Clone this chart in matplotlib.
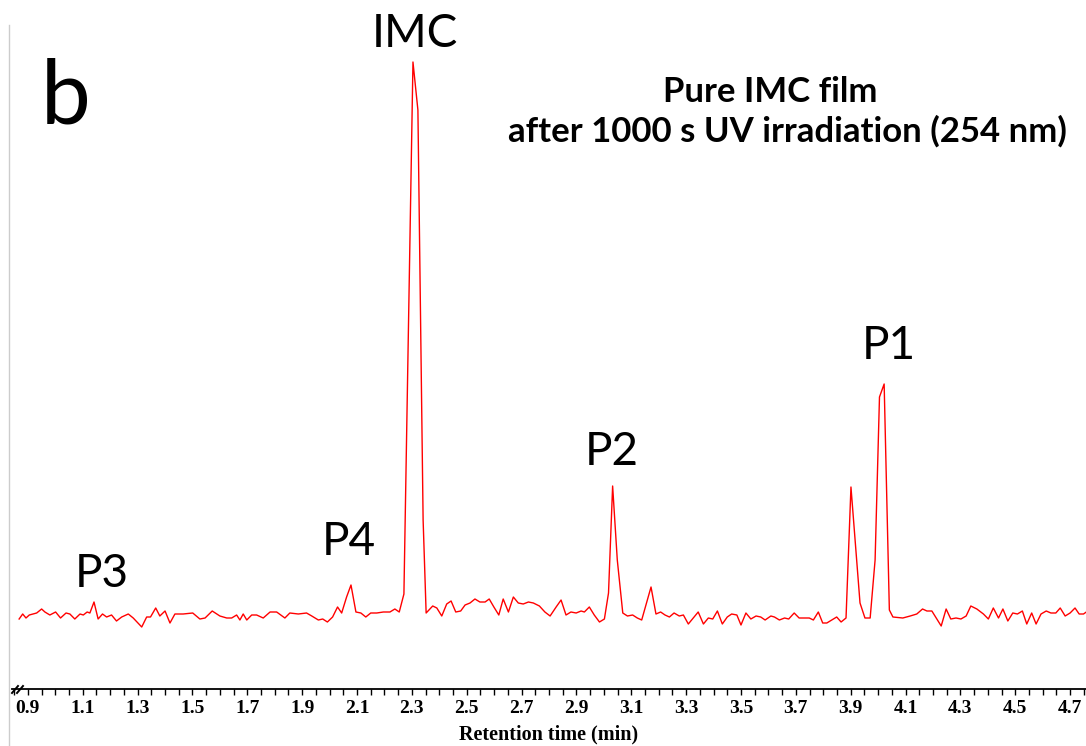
import numpy as np
import matplotlib
matplotlib.use("Agg")
from matplotlib import pyplot as plt
from matplotlib.lines import Line2D
from matplotlib.ticker import MultipleLocator, FixedLocator

# chromatogram: retention time (min) and detector signal (a.u.)
time_min = [0.868, 0.881, 0.893, 0.905, 0.919, 0.932, 0.950, 0.962, 0.980, 1.001,
            1.019, 1.039, 1.053, 1.071, 1.090, 1.102, 1.116, 1.126, 1.141, 1.156,
            1.172, 1.187, 1.205, 1.223, 1.242, 1.266, 1.284, 1.315, 1.333, 1.347,
            1.366, 1.381, 1.400, 1.418, 1.436, 1.466, 1.501, 1.527, 1.546, 1.572,
            1.600, 1.625, 1.643, 1.661, 1.673, 1.685, 1.698, 1.716, 1.734, 1.758,
            1.783, 1.807, 1.837, 1.855, 1.886, 1.916, 1.935, 1.959, 1.975, 1.992,
            2.011, 2.029, 2.044, 2.062, 2.078, 2.096, 2.114, 2.132, 2.150, 2.172,
            2.196, 2.220, 2.238, 2.254, 2.271, 2.304, 2.322, 2.341, 2.352, 2.376,
            2.391, 2.409, 2.427, 2.443, 2.460, 2.478, 2.494, 2.512, 2.530, 2.548,
            2.567, 2.582, 2.599, 2.617, 2.633, 2.652, 2.670, 2.688, 2.706, 2.725,
            2.743, 2.765, 2.785, 2.804, 2.826, 2.844, 2.862, 2.880, 2.899, 2.917,
            2.929, 2.947, 2.965, 2.984, 3.002, 3.017, 3.032, 3.049, 3.069, 3.086,
            3.105, 3.122, 3.138, 3.172, 3.190, 3.207, 3.223, 3.239, 3.256, 3.275,
            3.290, 3.308, 3.326, 3.344, 3.363, 3.381, 3.397, 3.414, 3.432, 3.450,
            3.466, 3.485, 3.500, 3.518, 3.536, 3.555, 3.572, 3.588, 3.609, 3.622,
            3.640, 3.659, 3.674, 3.694, 3.712, 3.749, 3.764, 3.782, 3.798, 3.813,
            3.831, 3.849, 3.865, 3.883, 3.901, 3.934, 3.952, 3.971, 3.989, 4.005,
            4.022, 4.041, 4.054, 4.090, 4.117, 4.141, 4.162, 4.178, 4.196, 4.230,
            4.248, 4.265, 4.284, 4.302, 4.321, 4.338, 4.360, 4.384, 4.402, 4.420,
            4.439, 4.455, 4.473, 4.491, 4.508, 4.526, 4.542, 4.560, 4.576, 4.594,
            4.613, 4.630, 4.648, 4.664, 4.682, 4.700, 4.718, 4.733, 4.749, 4.759]

signal = [-4, 1, -3, 0, 1, 2, 6, 3, 0, 3,
          -3, 2, 1, -4, 1, 0, 3, 2, 13, -4,
          1, -2, 0, -6, -2, 1, -3, -12, -2, -2,
          7, -1, 4, -8, 1, 1, 2, -4, -3, 4,
          -1, -3, -3, 0, -5, 1, -5, 0, 0, -3,
          3, 3, -3, 2, 1, 2, -1, -5, -4, -7,
          -2, 8, 2, 18, 30, 3, 2, -2, 2, 2,
          3, 3, 6, 3, 21, 553, 505, 95, 2, 9,
          7, -1, 11, 14, 3, 4, 10, 12, 16, 13,
          13, 16, 8, 0, 16, 3, 18, 12, 11, 13,
          12, 9, 3, -1, 8, 15, 0, 3, 2, 4,
          3, 8, 0, -7, -4, 22, 129, 55, 2, -1,
          0, -3, -5, 28, 1, 3, 0, -2, 2, -1,
          0, -9, -3, 3, -9, -3, -4, 4, -9, -2,
          1, 0, -10, 2, -4, -1, -2, -5, -1, -2,
          -5, -3, -4, 2, -3, -3, -5, 3, -8, -8,
          -5, -2, -7, -3, 128, 12, -3, -3, 55, 218,
          231, 5, -2, -3, -1, 1, 6, 4, 4, -11,
          6, -4, -3, -4, -1, 9, 6, 1, -4, 7,
          -3, 6, -6, 2, 1, 4, -9, 2, -9, 1,
          4, 2, 2, 7, -1, 2, 7, 1, 1, 3]

peak_names = ["P3", "P4", "IMC", "P2", "P1"]
peak_label_x = [1.17, 2.07, 2.31, 3.03, 4.04]
peak_label_y = [28, 60, 568, 150, 256]

tick_values = np.round(np.arange(0.9, 4.71, 0.2), 1)

fig = plt.figure(figsize=(10.86, 7.46), dpi=100)
ax = fig.add_axes([12/1086, 1 - 689/746, 1074/1086, 669/746])

ax.plot(time_min, signal, color="#ff0000", lw=1.0)

ax.set_xlim(0.842, 4.758)
ax.set_ylim(-74, 595)

for s in ["top", "right", "left"]:
    ax.spines[s].set_visible(False)
ax.spines["bottom"].set_linewidth(1.3)
ax.set_yticks([])

ax.xaxis.set_major_locator(FixedLocator(tick_values))
ax.xaxis.set_minor_locator(MultipleLocator(0.05))
ax.tick_params(axis="x", which="both", direction="out", length=4.5, width=1.0, pad=3.5)
ax.set_xticklabels([f"{v:.1f}" for v in tick_values],
                   fontfamily="Liberation Serif", fontweight="bold", fontsize=14)
ax.set_xlabel("Retention time (min)", fontfamily="Liberation Serif",
              fontweight="bold", fontsize=14.5, labelpad=5)

# axis break mark
for dx in [0, 5]:
    ax.plot([(0 + dx)/1074, (6 + dx)/1074], [-4/669, 3/669], color="black",
            lw=1.4, transform=ax.transAxes, clip_on=False)

# peak labels
for name, px, py in zip(peak_names, peak_label_x, peak_label_y):
    ax.text(px, py, name, ha="center", va="baseline", fontsize=33, fontfamily="Lato")

ax.text(0.027, 0.846, "b", transform=ax.transAxes, fontsize=64, fontfamily="Lato",
        va="baseline", ha="left")
ax.text(0.706, 0.892, "Pure IMC film", transform=ax.transAxes, fontsize=25,
        fontfamily="Lato", fontweight="bold", ha="center", va="center")
ax.text(0.7216, 0.833, "after 1000 s UV irradiation (254 nm)", transform=ax.transAxes,
        fontsize=25, fontfamily="Lato", fontweight="bold", ha="center", va="center")

# light grey border on the left
fig.add_artist(Line2D([9.3/1086, 9.3/1086], [0, 1 - 25/746], color="#cccccc", lw=1.0))

fig.savefig("out.png", dpi=100)
